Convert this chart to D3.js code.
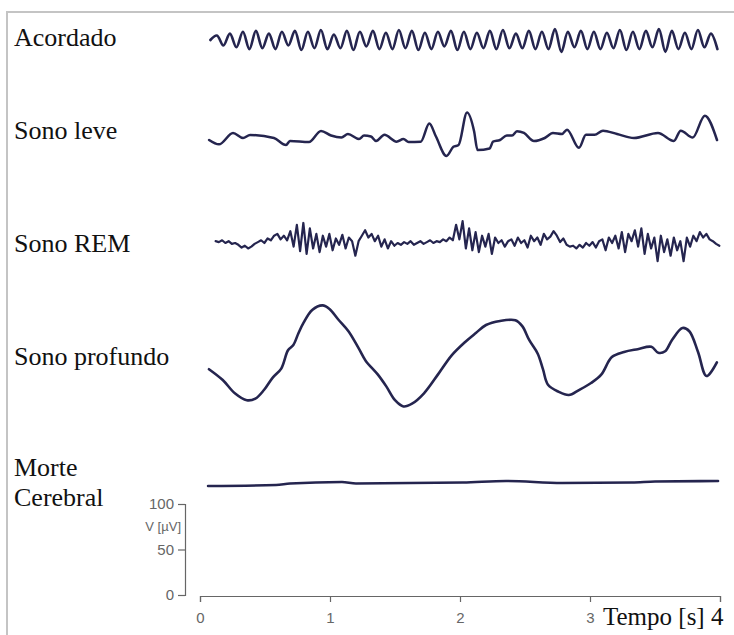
<!DOCTYPE html>
<html><head><meta charset="utf-8">
<script src="https://cdn.jsdelivr.net/npm/d3@7"></script>
<style>html,body{margin:0;padding:0;background:#fff;} svg{display:block;}</style>
</head><body>
<svg id="chart" width="734" height="635"></svg>
<script>
// ---------------- data ----------------
const stageLabels = ["Acordado", "Sono leve", "Sono REM", "Sono profundo", "Morte", "Cerebral"];
const timeTicks = [0, 1, 2, 3, 4];
const timeTickLabels = ["0", "1", "2", "3", ""];
const voltTicks = [0, 50, 100];
const voltLabel = "V [µV]";
const timeLabel = "Tempo [s] 4";

// Acordado (alpha waves): samples every 0.05 s starting at 0.08 s, µV
const acordadoStart = 0.08, acordadoStep = 0.05;
const acordadoValues = [
  0, 5, -6, 7, -8, 9, -10, 10, -9, 7,
  -10, 9, -6, 10, -11, 9, -9, 11, -10, 6,
  -9, 10, -11, 9, -7, 10, -10, 8, -10, 11,
  -9, 10, -11, 8, -10, 9, -7, 10, -11, 9,
  -10, 8, -9, 10, -10, 11, -9, 7, -9, 10,
  -10, 9, -10, 12, -13, 9, -8, 10, -10, 9,
  -10, 8, -9, 11, -11, 9, -10, 10, -8, 12,
  -13, 10, -10, 8, -10, 11, -8, 7, -10
];

// Sono leve: time (s) / value (µV)
const leveTimes = [0.07,0.146,0.254,0.331,0.385,0.569,0.662,0.692,0.838,0.931,1.008,1.088,1.138,1.223,1.262,1.315,1.354,1.419,1.512,1.565,1.605,1.698,1.764,1.815,1.896,1.949,1.989,2.054,2.108,2.135,2.228,2.254,2.308,2.36,2.4,2.438,2.492,2.569,2.652,2.715,2.785,2.823,2.915,2.969,3.035,3.1,3.208,3.338,3.523,3.645,3.698,3.79,3.883,3.977];
const leveValues = [-2.2,-7,5.5,0,3.3,0,-7.7,-3.3,-4.4,7.7,2.7,0.5,4.4,-1.1,2.7,1.6,-3.3,3.5,-4,-1.1,-4.4,-4,16,1.6,-19.8,-9.7,-7.7,28,7.7,-13.2,-11.5,-4,-2.2,2.7,2.7,7.4,5.5,-3.3,0,5.5,4.4,9.2,-10.8,3.5,3.5,8.1,4.4,0,5.5,-3.3,8.1,0.5,24.4,-2.2];

// Sono REM: samples every 0.025 s starting at 0.12 s, µV
const remStart = 0.12, remStep = 0.025;
const remValues = [
  2, 1, 3, 0, 2, -1, 0,
  -2, -5, -3, -6, -4, -1,
  1, 3, 0, 5, 3, 8,
  10, 4, 8, 3,
  13, -4, 20, -9, 22, -12, 16, -6,
  10, -10, 8, -4, 10, -8, 5, -2, 9, -6, 6, 2,
  -14, 2, 8, 14, 6, 10,
  2, 8, -4, 4, -6, 2, -3, 0,
  -2, 1, -1, 2, -2, 0, 2, -1, 1, 3, 0, 2, 1, 4, 2, 6, 3,
  20, 4, 24, -6, 16, -8,
  12, -10, 8, -4, 10, -12, 6, 0, 3, -4, 2,
  4, -3, 6, 0, 3, -5, 8, 2, 6, -2, 10, 4,
  7, 13, 8, 1, 5,
  -2, -4, -3, -6, -2, -5, 0, -3, 1, -5, 2,
  4, -8, 6, 0, 8, -6, 12, -10, 10, 2, 14,
  -4, 16, -12, 10, -6, 6, -20, 8, -10, 4, -14, 6, -8, 2, -20, 6,
  -4, 8, 2, 12, 6, 10, 4, 2, -1, -3
];

// Sono profundo (delta waves): time (s) / value (µV)
const profundoTimes = [0.069,0.175,0.268,0.36,0.426,0.492,0.558,0.625,0.677,0.718,0.758,0.797,0.863,0.943,0.996,1.062,1.142,1.221,1.274,1.367,1.433,1.5,1.565,1.631,1.723,1.831,1.936,2.042,2.122,2.2,2.308,2.426,2.479,2.532,2.598,2.638,2.677,2.757,2.837,2.915,3.008,3.088,3.168,3.262,3.367,3.472,3.525,3.578,3.631,3.711,3.764,3.831,3.896,3.976];
const profundoValues = [-15.6,-27.5,-42.1,-49.7,-47.9,-38.5,-25.1,-14.9,5.2,11,24.2,35.5,49.5,54.5,50.6,39.3,26.1,7.2,-6.2,-21.3,-34.5,-49.7,-56.5,-53.5,-42.1,-21.3,-0.4,14.6,24.2,33,37.4,38.2,31.7,16.5,1.4,-15.6,-32.7,-40.3,-44,-38.5,-30.8,-21.3,-2.3,3.3,6.4,9,2.5,4.1,16.5,29.7,26.1,3.3,-23.1,-8];

// Morte cerebral (flat line): time (s) / value (µV)
const morteTimes = [0.062,0.585,0.692,1.092,1.2,2.023,2.354,2.785,3.323,3.5,3.985];
const morteValues = [-2.2,-1.1,0.5,2.2,0.5,1.6,3.3,1.1,1.6,2.7,3.3];

// ---------------- layout ----------------
const svg = d3.select("#chart");
const serif = "'Liberation Serif', 'Times New Roman', serif";
const sans = "'Liberation Sans', Arial, sans-serif";
const traceColor = "#25254f";

svg.append("rect").attr("width", 734).attr("height", 635).attr("fill", "#fff");
svg.append("path").attr("d", "M7,635V12H734").attr("fill", "none")
  .attr("stroke", "#c4c4c4").attr("stroke-width", 2);

const x = d3.scaleLinear().domain([0, 4]).range([200, 720]);
const yV = d3.scaleLinear().domain([0, 100]).range([595, 504]);
const pxPerUv = (yV(0) - yV(100)) / 100;

const rowBase = [40, 138, 243, 355, 484];
const labelY = [46, 139, 252, 365, 476, 506];

stageLabels.forEach((s, i) => {
  svg.append("text").attr("x", 14).attr("y", labelY[i]).text(s)
    .attr("font-family", serif).attr("font-size", 26).attr("fill", "#111");
});

function drawTrace(times, values, base, curve, width) {
  const ys = d3.scaleLinear().domain([-100, 100])
    .range([base + 100 * pxPerUv, base - 100 * pxPerUv]);
  const line = d3.line().x(d => x(d[0])).y(d => ys(d[1])).curve(curve);
  svg.append("path").datum(d3.zip(times, values)).attr("d", line)
    .attr("fill", "none").attr("stroke", traceColor)
    .attr("stroke-width", width).attr("stroke-linejoin", "round").attr("stroke-linecap", "round");
}

const acordadoTimes = acordadoValues.map((v, i) => acordadoStart + i * acordadoStep);
const remTimes = remValues.map((v, i) => remStart + i * remStep);

drawTrace(acordadoTimes, acordadoValues, rowBase[0], d3.curveCatmullRom, 2.6);
drawTrace(leveTimes, leveValues, rowBase[1], d3.curveMonotoneX, 2.5);
drawTrace(remTimes, remValues, rowBase[2], d3.curveLinear, 2.2);
drawTrace(profundoTimes, profundoValues, rowBase[3], d3.curveCatmullRom, 2.6);
drawTrace(morteTimes, morteValues, rowBase[4], d3.curveMonotoneX, 2.6);

const yAxis = svg.append("g").attr("transform", "translate(185,0)")
  .call(d3.axisLeft(yV).tickValues(voltTicks).tickSize(7).tickPadding(4));
const xAxis = svg.append("g").attr("transform", "translate(0,596)")
  .call(d3.axisBottom(x).tickValues(timeTicks).tickSize(6).tickPadding(10)
    .tickFormat((d, i) => timeTickLabels[i]));
[yAxis, xAxis].forEach(a => {
  a.selectAll("path,line").attr("stroke", "#666").attr("stroke-width", 1.2);
  a.selectAll("text").attr("font-family", sans).attr("font-size", 15).attr("fill", "#666");
});

svg.append("text").attr("x", 181).attr("y", 531).attr("text-anchor", "end")
  .text(voltLabel).attr("font-family", sans).attr("font-size", 13).attr("fill", "#666");
svg.append("text").attr("x", 603).attr("y", 625).text(timeLabel)
  .attr("font-family", serif).attr("font-size", 25).attr("fill", "#111");
</script>
</body></html>
